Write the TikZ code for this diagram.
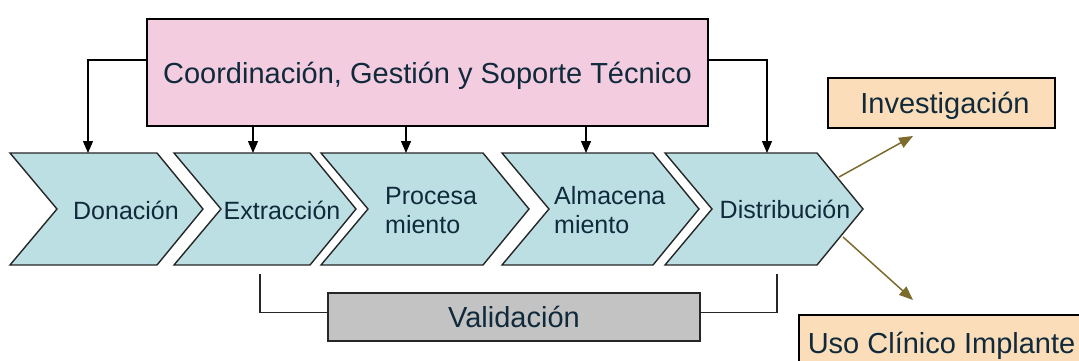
\documentclass[tikz,border=0pt]{standalone}
\usepackage{fontspec}
\setmainfont{Liberation Sans}
\usetikzlibrary{arrows.meta}
\definecolor{chevf}{HTML}{BCDFE3}
\definecolor{pinkf}{HTML}{F3CCE0}
\definecolor{grayf}{HTML}{C3C3C3}
\definecolor{peachf}{HTML}{FBDDB9}
\definecolor{txtc}{HTML}{102A3C}
\definecolor{olivec}{HTML}{7D6B2E}
\tikzset{
  chevbox/.style={draw=black!85, line width=1.4pt, fill=chevf, line join=miter},
  chevtxt/.style={text=txtc, inner sep=0pt, font=\fontsize{25}{29}\selectfont},
  topbox/.style={draw=black, line width=1.6pt, fill=pinkf, text=txtc, font=\fontsize{29}{34}\selectfont},
  valbox/.style={draw=black!85, line width=1.4pt, fill=grayf, text=txtc, font=\fontsize{29}{34}\selectfont},
  outbox/.style={draw=black, line width=1.6pt, fill=peachf, text=txtc, font=\fontsize{29}{34}\selectfont},
  darr/.style={line width=1.3pt, -{Triangle[width=10pt,length=12pt]}},
  oarr/.style={line width=1.5pt, draw=olivec, -{Triangle[width=11pt,length=14pt,fill=olivec]}},
  brk/.style={line width=1.3pt, draw=black!85},
}
\begin{document}
\begin{tikzpicture}[x=1pt,y=-1pt]
\clip (0,0) rectangle (1079,361);
\fill[white] (0,0) rectangle (1079,361);

% chevrons: left x / right x
\foreach \l/\r in {10/157,174/310,321/483,502/653,665/817}{
  \draw[chevbox] (\l,153) -- (\r,153) -- (\r+46,209) -- (\r,265) -- (\l,265) -- (\l+47,209) -- cycle;
}

\node[chevtxt, anchor=base] (don) at (126,219) {Donación};
\node[chevtxt, anchor=base] (ext) at (282,219) {Extracción};
\node[chevtxt, anchor=west, align=left] (pro) at (385,210.5) {Procesa\\miento};
\node[chevtxt, anchor=west, align=left] (alm) at (554,210.5) {Almacena\\miento};
\node[chevtxt, anchor=base] (dis) at (785,218) {Distribución};

\coordinate (t1) at (88,153);
\coordinate (t2) at (253,153);
\coordinate (t3) at (406,153);
\coordinate (t4) at (586,153);
\coordinate (t5) at (767,153);

\node[topbox, minimum width=561pt, minimum height=107pt, text height=22pt, text depth=0pt] (coord) at (427.5,72.5) {Coordinación, Gestión y Soporte Técnico};

\draw[darr] ([yshift=12.5pt]coord.west) -| (t1);
\draw[darr] ([yshift=12.5pt]coord.east) -| (t5);
\draw[darr] (coord.south -| t2) -- (t2);
\draw[darr] (coord.south -| t3) -- (t3);
\draw[darr] (coord.south -| t4) -- (t4);

% validation
\node[valbox, minimum width=372pt, minimum height=48pt, text height=20pt, text depth=0pt] (val) at (514,317) {Validación};
\coordinate (b1) at (260,274);
\coordinate (b2) at (777,274);
\draw[brk] ([yshift=4.5pt]val.west) -| (b1);
\draw[brk] ([yshift=4.5pt]val.east) -| (b2);

% outputs
\node[outbox, minimum width=227pt, minimum height=50pt, text height=20pt, text depth=0pt] (inv) at (941.5,103) {\hspace*{7pt}Investigación};
\node[outbox, anchor=west, minimum height=56pt, inner xsep=9pt, text height=20pt, text depth=0pt] (uso) at (798,343) {Uso Clínico Implante};

\coordinate (s1) at (839,177);
\coordinate (e1) at (913,136);
\coordinate (s2) at (843,237);
\coordinate (e2) at (913,300);
\draw[oarr] (s1) -- (e1);
\draw[oarr] (s2) -- (e2);
\end{tikzpicture}
\end{document}
